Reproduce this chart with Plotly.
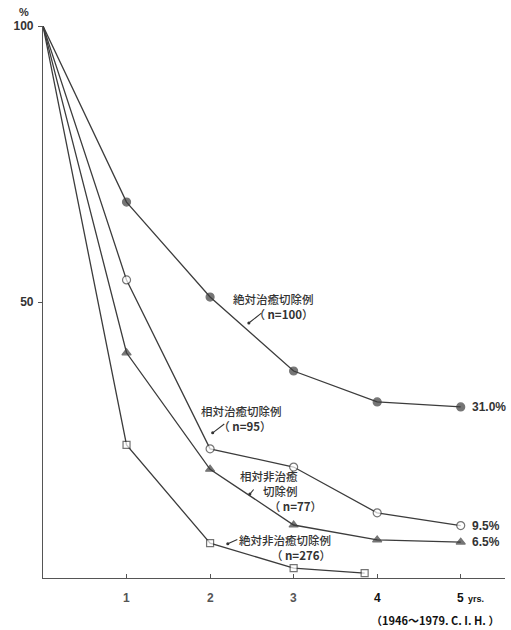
import plotly.graph_objects as go

# Survival after resection (years vs. survival %), 1946-1979
years = [0, 1, 2, 3, 4, 5]
abs_curative = [100, 68.1, 50.9, 37.5, 31.9, 31.0]        # 絶対治癒切除例 n=100
rel_curative = [100, 54.0, 23.4, 20.1, 11.8, 9.5]         # 相対治癒切除例 n=95
rel_noncurative = [100, 40.8, 19.7, 9.6, 6.9, 6.5]        # 相対非治癒切除例 n=77
abs_noncurative_years = [0, 1, 2, 3, 3.85]
abs_noncurative = [100, 24.1, 6.3, 1.8, 0.9]              # 絶対非治癒切除例 n=276

tick_years = [1, 2, 3, 4, 5]
tick_text = ["<b>1</b>", "<b>2</b>", "<b>3</b>", "<b>4</b>", "<b>5</b>"]
tick_colors = ["#555", "#555", "#555", "#111", "#111"]
end_labels = ["31.0%", "9.5%", "6.5%"]

LINE = "#3c3c3c"
NUM_FONT = "Liberation Sans"
JP_FONT = "Noto Sans CJK JP"

fig = go.Figure()

def add_series(x, y, symbol, fill, size):
    fig.add_trace(go.Scatter(
        x=x, y=y, mode="lines+markers",
        line=dict(color=LINE, width=1.3),
        marker=dict(symbol=symbol, size=[0] + [size] * (len(x) - 1),
                    color=fill, line=dict(color=LINE, width=1.2)),
        cliponaxis=False, showlegend=False,
    ))

add_series(years, abs_curative, "circle", LINE, 8)
add_series(years, rel_curative, "circle", "white", 8)
add_series(years, rel_noncurative, "triangle-up", LINE, 8)
add_series(abs_noncurative_years, abs_noncurative, "square", "white", 7)

annotations = []

def caption(x, y, s, anchor, align):
    annotations.append(dict(
        x=x, y=y, xref="x", yref="y", text=s, align=align,
        showarrow=False, xanchor=anchor, yanchor="middle",
        font=dict(family=JP_FONT, size=11.5, color="#333", weight=500),
    ))

def leader(x, y, tx, ty):
    annotations.append(dict(
        x=x, y=y, ax=tx, ay=ty, xref="x", yref="y", axref="x", ayref="y",
        text="", showarrow=True, arrowhead=6, arrowsize=0.7,
        arrowwidth=1.1, arrowcolor="#333",
    ))

# series captions
caption(3.269, 49.2, "絶対治癒切除例<br>（ <b>n=100</b>）", "right", "right")
leader(2.464, 46.2, 2.632, 48.2)

caption(1.863, 28.9, "相対治癒切除例<br>　　（ <b>n=95</b>）", "left", "left")
leader(2.031, 26.3, 2.188, 28.1)

caption(2.332, 15.8, "相対非治癒<br>　　切除例<br>　　　（ <b>n=77</b>）", "left", "left")
leader(2.476, 15.2, 2.536, 16.3)

caption(3.474, 5.5, "絶対非治癒切除例<br>（ <b>n=276</b>）", "right", "right")
leader(2.212, 6.2, 2.344, 7.1)

# final-year values
for series, lab in zip([abs_curative, rel_curative, rel_noncurative], end_labels):
    annotations.append(dict(
        x=years[-1], y=series[-1], xref="x", yref="y", text=f"<b>{lab}</b>",
        showarrow=False, xanchor="left", yanchor="middle", xshift=9,
        font=dict(family=NUM_FONT, size=12, color="#333"),
    ))

# x tick labels
for yr, lab, col in zip(tick_years, tick_text, tick_colors):
    annotations.append(dict(
        x=yr, y=0, xref="x", yref="y", text=lab, showarrow=False,
        xanchor="center", yanchor="middle", yshift=-20,
        font=dict(family=NUM_FONT, size=12, color=col),
    ))

# axis extras
annotations.append(dict(
    x=0, y=100, xref="x", yref="y", text="<b>%</b>", showarrow=False,
    xanchor="right", yanchor="bottom", xshift=-12, yshift=6,
    font=dict(family=NUM_FONT, size=11, color="#333"),
))
annotations.append(dict(
    x=5, y=0, xref="x", yref="y", text="<b>yrs.</b>", showarrow=False,
    xanchor="left", yanchor="middle", xshift=5, yshift=-21,
    font=dict(family=NUM_FONT, size=9, color="#111"),
))
annotations.append(dict(
    x=1.0, y=0, xref="paper", yref="paper", text="<b>（1946～1979. C. I. H. ）</b>",
    showarrow=False, xanchor="right", yanchor="middle", xshift=-4, yshift=-42,
    font=dict(family=JP_FONT, size=11, color="#111"),
))

fig.update_layout(
    width=511, height=630,
    margin=dict(l=43, r=6, t=26, b=52),
    paper_bgcolor="white", plot_bgcolor="white",
    annotations=annotations,
    xaxis=dict(
        range=[0, 5.53], showgrid=False, zeroline=False,
        showline=True, linecolor="#555", linewidth=1.2,
        tickvals=tick_years, showticklabels=False,
        ticks="inside", ticklen=4, tickcolor="#555",
    ),
    yaxis=dict(
        range=[0, 100], showgrid=False, zeroline=False,
        showline=True, linecolor="#555", linewidth=1.2,
        tickvals=[50, 100], ticktext=["<b>50</b>", "<b>100</b>"],
        ticks="outside", ticklen=4, tickcolor="#555",
        tickfont=dict(family=NUM_FONT, size=12, color="#333"),
        ticklabelstandoff=2,
    ),
)

fig.write_html("out.html")
